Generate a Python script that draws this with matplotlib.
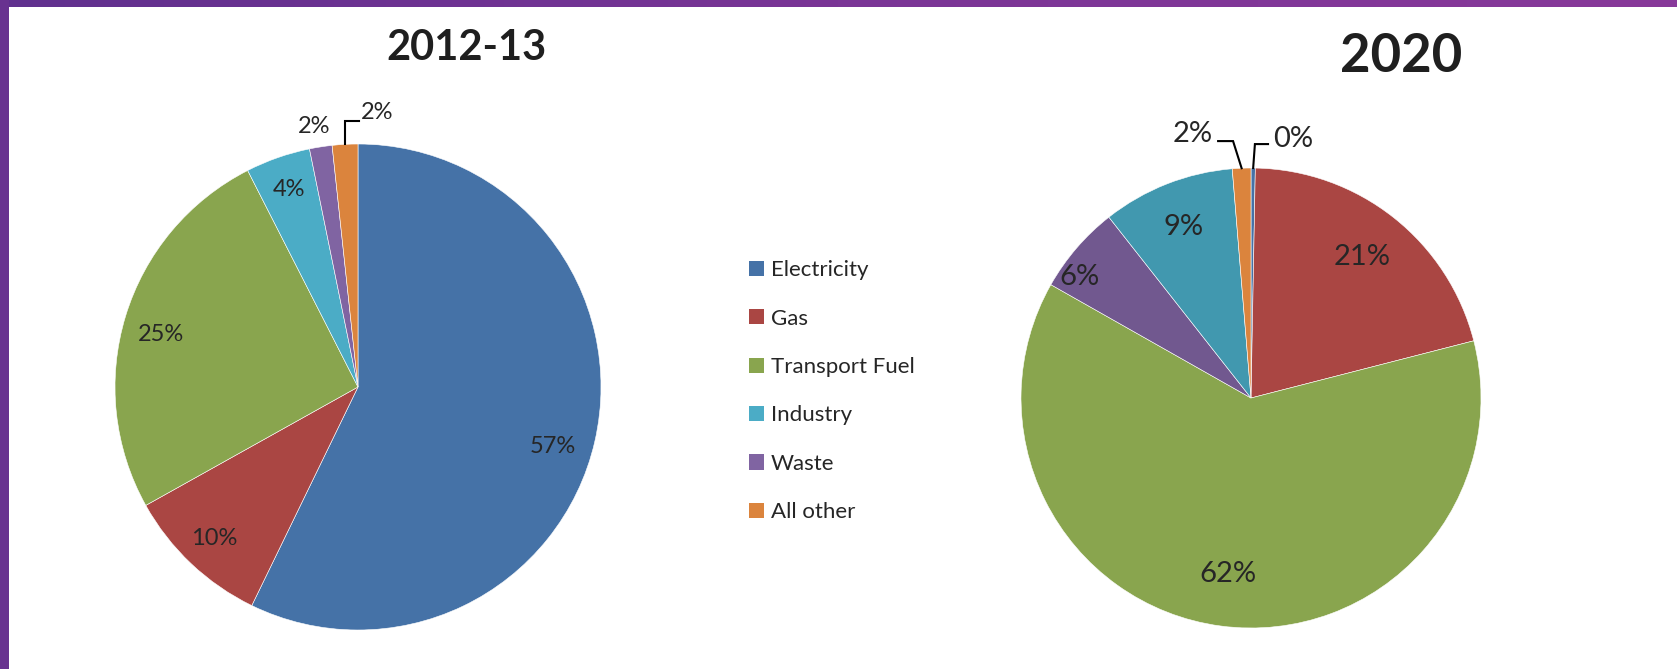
import numpy as np
import matplotlib
matplotlib.use("Agg")
import matplotlib.pyplot as plt
from matplotlib.patches import Rectangle, Patch
from matplotlib.colors import LinearSegmentedColormap

plt.rcParams['font.family'] = ['Lato', 'DejaVu Sans']

categories = ["Electricity", "Gas", "Transport Fuel", "Industry", "Waste", "All other"]
share_2012 = [57.2, 9.7, 25.6, 4.3, 1.5, 1.7]
labels_2012 = ["57%", "10%", "25%", "4%", "2%", "2%"]
# 2020 slices in the order they are drawn (clockwise from 12 o'clock)
share_2020 = [0.3, 20.7, 62.2, 6.2, 9.3, 1.3]
labels_2020 = ["0%", "21%", "62%", "6%", "9%", "2%"]

colors_2012 = ["#4572a7", "#aa4643", "#89a54e", "#4bacc6", "#8064a2", "#db843d"]
colors_2020 = ["#4572a7", "#aa4643", "#89a54e", "#71588f", "#4198af", "#db843d"]
text_col = "#262626"

W, H = 1677, 669
fig = plt.figure(figsize=(W / 100, H / 100), dpi=100)
fig.patch.set_facecolor("white")

LIM = 1.3


def pie_axes(cx, cy, r):
    size = 2 * r * LIM
    ax = fig.add_axes([(cx - size / 2) / W, (H - cy - size / 2) / H, size / W, size / H])
    return ax


def draw_pie(ax, vals, cols):
    wedges, _ = ax.pie(vals, colors=cols, startangle=90, counterclock=False,
                       radius=1.0, wedgeprops=dict(edgecolor="white", linewidth=0.4))
    # pie() resets the limits, so set them afterwards
    ax.set_xlim(-LIM, LIM)
    ax.set_ylim(-LIM, LIM)
    ax.set_aspect("equal")
    ax.axis("off")
    return wedges


def label_point(w, r, shift=0.0):
    # point at radius r along the slice middle, rotated by shift degrees
    a = np.deg2rad((w.theta1 + w.theta2) / 2 + shift)
    return r * np.cos(a), r * np.sin(a)


# ---- left pie (2012-13)
ax1 = pie_axes(358, 387, 243)
w1 = draw_pie(ax1, share_2012, colors_2012)
place_2012 = [(0.84, -4), (0.86, 0), (0.84, 2), (0.86, 0)]
for w, lab, (d, s) in zip(w1[:4], labels_2012[:4], place_2012):
    x, y = label_point(w, d, s)
    ax1.text(x, y, lab, ha="center", va="center", fontsize=17, color=text_col)
# waste label just outside
ax1.text(-0.179, 1.07, labels_2012[4], ha="center", va="center", fontsize=17, color=text_col)
# all other label with leader line
x0, y0 = label_point(w1[5], 1.0)
ax1.plot([x0, x0, 0.004], [y0, 1.095, 1.095], color="black", lw=1.5, solid_joinstyle="miter")
ax1.text(0.01, 1.128, labels_2012[5], ha="left", va="center", fontsize=17, color=text_col)

# ---- right pie (2020)
ax2 = pie_axes(1251, 398, 230)
w2 = draw_pie(ax2, share_2020, colors_2020)
place_2020 = {1: (0.78, 0), 2: (0.77, 0), 3: (0.91, 5.5), 4: (0.80, 0)}
for i, (d, s) in place_2020.items():
    x, y = label_point(w2[i], d, s)
    ax2.text(x, y, labels_2020[i], ha="center", va="center", fontsize=21, color=text_col)
# all other (2%) leader to the left
x0, y0 = label_point(w2[5], 1.0)
ax2.plot([x0, -0.078, -0.143], [y0, 1.117, 1.117], color="black", lw=1.5, solid_joinstyle="miter")
ax2.text(-0.165, 1.15, labels_2020[5], ha="right", va="center", fontsize=21, color=text_col)
# electricity (0%) leader to the right
x0, y0 = label_point(w2[0], 1.0)
ax2.plot([x0, 0.017, 0.074], [y0, 1.104, 1.104], color="black", lw=1.5, solid_joinstyle="miter")
ax2.text(0.095, 1.125, labels_2020[0], ha="left", va="center", fontsize=21, color=text_col)

# ---- titles
fig.text(466 / W, 1 - 48 / H, "2012-13", ha="center", va="center",
         fontsize=30, fontweight="bold", color="#1f1f1f")
fig.text(1401 / W, 1 - 57 / H, "2020", ha="center", va="center",
         fontsize=38, fontweight="bold", color="#1f1f1f")

# ---- legend
handles = [Patch(facecolor=c, edgecolor="none") for c in colors_2012]
fig.legend(handles, categories, loc="upper left", bbox_to_anchor=(738 / W, 1 - 249 / H),
           frameon=False, fontsize=16, labelspacing=1.28, handlelength=0.68,
           handleheight=0.68, handletextpad=0.3, labelcolor=text_col, borderpad=0)

# ---- purple frame (top bar and left bar)
grad = np.linspace(0, 1, 256).reshape(1, -1)
cmap = LinearSegmentedColormap.from_list("frame", ["#60308e", "#7a3596", "#88399a"])
top = fig.add_axes([0, 1 - 7.5 / H, 1, 7.5 / H])
top.imshow(grad, aspect="auto", cmap=cmap)
top.axis("off")
fig.add_artist(Rectangle((0, 0), 9 / W, 1, transform=fig.transFigure,
                         facecolor="#683290", edgecolor="none"))

fig.savefig("out.png", dpi=100)
